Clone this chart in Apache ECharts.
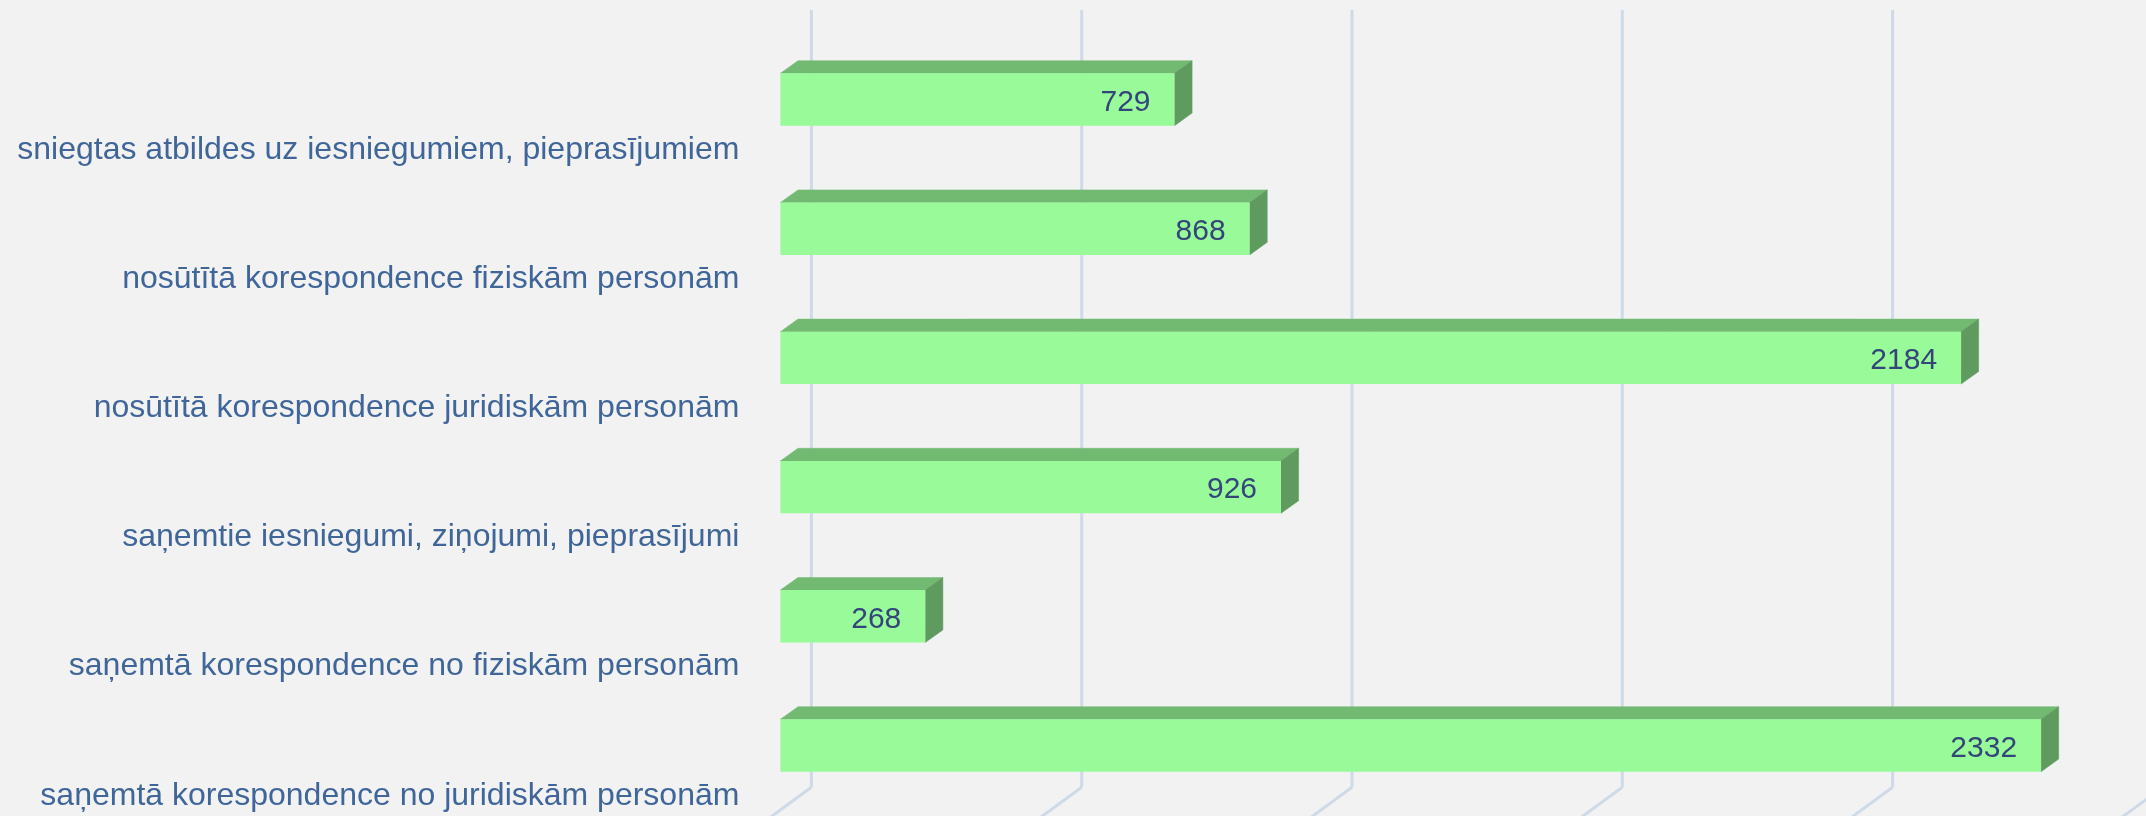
<!DOCTYPE html>
<html><head><meta charset="utf-8">
<script src="https://cdn.jsdelivr.net/npm/echarts/dist/echarts.min.js"></script>
<style>html,body{margin:0;padding:0;background:#f2f2f2;} #c{width:2146px;height:816px;}</style>
</head><body><div id="c"></div>
<script>
const categories = [
  "sniegtas atbildes uz iesniegumiem, pieprasījumiem",
  "nosūtītā korespondence fiziskām personām",
  "nosūtītā korespondence juridiskām personām",
  "saņemtie iesniegumi, ziņojumi, pieprasījumi",
  "saņemtā korespondence no fiziskām personām",
  "saņemtā korespondence no juridiskām personām"
];
const values = [729, 868, 2184, 926, 268, 2332];
const gridTicks = [0, 500, 1000, 1500, 2000, 2500];

// 3D projection style constants
const BAR_DX = 17.6, BAR_DY = -12.6;     // bar depth offset
const WALL_DX = 31;                       // back wall offset
const WALL_TOP = 10, WALL_BOTTOM = 787.3; // wall gridline extent
const FLOOR_DX = -39.3, FLOOR_DY = 28.7;  // floor line direction
const BAR_SHIFT = -0.3886, BAR_H = 0.4056; // in band units
const LABEL_INSET = 24;

const chart = echarts.init(document.getElementById('c'), null, {renderer: 'canvas'});
chart.setOption({
  backgroundColor: '#f2f2f2',
  animation: false,
  grid: {left: 780.4, top: 85.1, width: 1351.5, height: 775.2, containLabel: false, outerBoundsMode: 'none'},
  xAxis: {
    type: 'value', min: 0, max: 2500, interval: 500,
    axisLabel: {show: false}, axisLine: {show: false}, axisTick: {show: false},
    splitLine: {show: false}
  },
  yAxis: {
    type: 'category', data: categories, inverse: true,
    axisLine: {show: false}, axisTick: {show: false},
    axisLabel: {fontSize: 32, color: '#3f6599', fontFamily: 'Liberation Sans', margin: 41}
  },
  series: [
    {
      type: 'custom',
      z: 1,
      silent: true,
      data: gridTicks.map(v => [v, 0]),
      renderItem: function (params, api) {
        const p = api.coord([api.value(0), 0]);
        const x = p[0] + WALL_DX;
        const style = {stroke: '#cfdae8', lineWidth: 3, fill: null};
        return {
          type: 'group',
          children: [
            {type: 'line', shape: {x1: x, y1: WALL_TOP, x2: x, y2: WALL_BOTTOM}, style: style},
            {type: 'line', shape: {x1: x, y1: WALL_BOTTOM, x2: x + FLOOR_DX * 3, y2: WALL_BOTTOM + FLOOR_DY * 3}, style: style}
          ]
        };
      }
    },
    {
      type: 'custom',
      z: 2,
      data: values.map((v, i) => [v, i]),
      renderItem: function (params, api) {
        const val = api.value(0), idx = api.value(1);
        const s = api.coord([0, idx]);
        const e = api.coord([val, idx]);
        const band = api.size([0, 1])[1];
        const cy = s[1] + BAR_SHIFT * band;
        const h = BAR_H * band;
        const x0 = s[0], x1 = e[0], y0 = cy - h / 2, y1 = cy + h / 2;
        return {
          type: 'group',
          children: [
            {type: 'polygon', shape: {points: [[x0, y0], [x1, y0], [x1 + BAR_DX, y0 + BAR_DY], [x0 + BAR_DX, y0 + BAR_DY]]},
              style: {fill: '#72b972', stroke: '#72b972', lineWidth: 0.5}},
            {type: 'polygon', shape: {points: [[x1, y0], [x1 + BAR_DX, y0 + BAR_DY], [x1 + BAR_DX, y1 + BAR_DY], [x1, y1]]},
              style: {fill: '#5f9b5f', stroke: '#5f9b5f', lineWidth: 0.5}},
            {type: 'rect', shape: {x: x0, y: y0, width: x1 - x0, height: h},
              style: {fill: '#98fa98'}},
            {type: 'text', style: {text: String(val), x: x1 - LABEL_INSET, y: cy + 3, align: 'right', verticalAlign: 'middle',
              fontSize: 30, fontFamily: 'Liberation Sans', fill: '#34457a'}}
          ]
        };
      }
    }
  ]
});
</script>
</body></html>
